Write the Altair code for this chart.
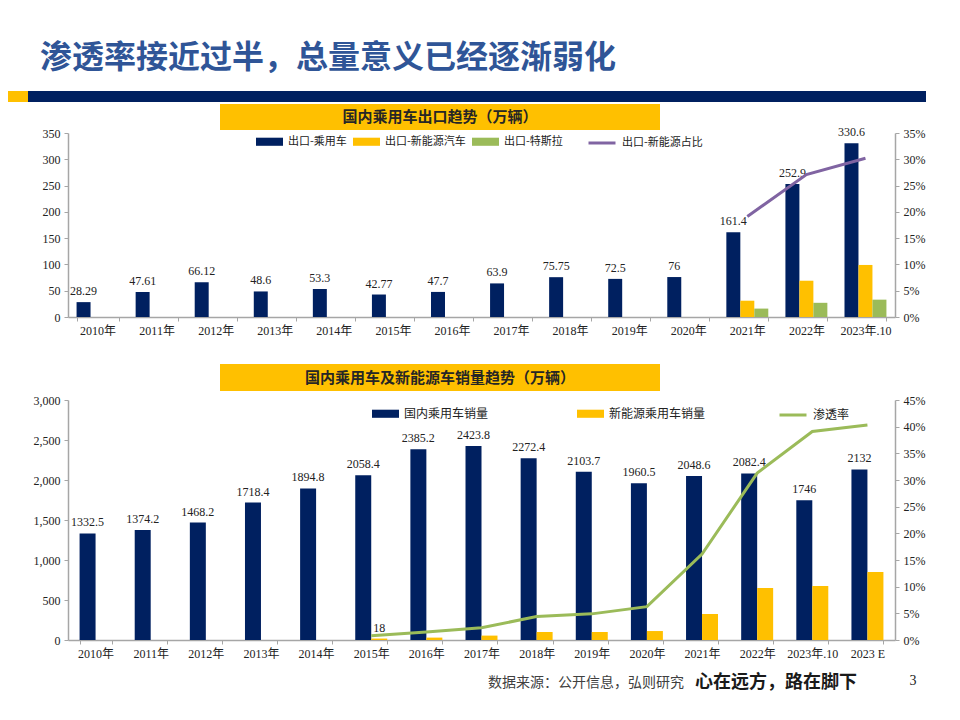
import altair as alt
import pandas as pd

# ---------------- data: top chart (exports) ----------------
cats_top = ["2010年", "2011年", "2012年", "2013年", "2014年", "2015年", "2016年",
            "2017年", "2018年", "2019年", "2020年", "2021年", "2022年", "2023年.10"]
export_pv = [28.29, 47.61, 66.12, 48.6, 53.3, 42.77, 47.7, 63.9, 75.75, 72.5, 76, 161.4, 252.9, 330.6]
export_nev = [None] * 11 + [31, 69, 99]
export_tesla = [None] * 11 + [16, 27, 33]
export_nev_share = [None] * 11 + [0.191, 0.271, 0.302]
series_top = ["出口-乘用车", "出口-新能源汽车", "出口-特斯拉"]
line_top = "出口-新能源占比"

# ---------------- data: bottom chart (domestic sales) ----------------
cats_bot = ["2010年", "2011年", "2012年", "2013年", "2014年", "2015年", "2016年", "2017年",
            "2018年", "2019年", "2020年", "2021年", "2022年", "2023年.10", "2023 E"]
pv_sales = [1332.5, 1374.2, 1468.2, 1718.4, 1894.8, 2058.4, 2385.2, 2423.8,
            2272.4, 2103.7, 1960.5, 2048.6, 2082.4, 1746, 2132]
nev_sales = [None] * 5 + [18, 30, 55, 100, 100, 112, 325, 650, 675, 850]
penetration = [None] * 5 + [0.008, 0.015, 0.023, 0.044, 0.049, 0.0625, 0.161, 0.313, 0.391, 0.403]
series_bot = ["国内乘用车销量", "新能源乘用车销量"]
line_bot = "渗透率"
nev_labelled = ["2015年"]

# ---------------- texts ----------------
page_title = "渗透率接近过半，总量意义已经逐渐弱化"
top_title = "国内乘用车出口趋势（万辆）"
bot_title = "国内乘用车及新能源车销量趋势（万辆）"
source_text = "数据来源：公开信息，弘则研究"
slogan = "心在远方，路在脚下"
page_no = "3"

NAVY = "#002060"
YELLOW = "#FFC000"
GREEN = "#9BBB59"
PURPLE = "#8064A2"
TITLE_BLUE = "#2F5597"
AXIS_GRAY = "#A6A6A6"
SERIF = "Liberation Serif, Noto Sans CJK SC"
CJK = "Noto Sans CJK SC"

# ---------------- tables ----------------
rows = []
for c, a, b, t in zip(cats_top, export_pv, export_nev, export_tesla):
    for s, v in zip(series_top, [a, b, t]):
        if v is not None:
            rows.append({"cat1": c, "series1": s, "value": v, "label": f"{v:g}",
                         "show": s == series_top[0]})
df_top = pd.DataFrame(rows)
df_top_line = pd.DataFrame([{"cat1": c, "line1": line_top, "share": v}
                            for c, v in zip(cats_top, export_nev_share) if v is not None])

rows = []
for c, a, b in zip(cats_bot, pv_sales, nev_sales):
    for s, v in zip(series_bot, [a, b]):
        if v is not None:
            rows.append({"cat2": c, "series2": s, "value": v, "label": f"{v:g}",
                         "show": (s == series_bot[0]) or (c in nev_labelled)})
df_bot = pd.DataFrame(rows)
df_bot_line = pd.DataFrame([{"cat2": c, "line2": line_bot, "share": v}
                            for c, v in zip(cats_bot, penetration) if v is not None])

one = alt.Data(values=[{}])


def deco_rect(x, x2, y, y2, color, opacity=1.0):
    return alt.Chart(one).mark_rect(color=color, opacity=opacity).encode(
        x=alt.value(x), x2=alt.value(x2), y=alt.value(y), y2=alt.value(y2))


def deco_text(text, x, y, size, font=CJK, weight="normal", color="#222222", align="center"):
    return alt.Chart(one).mark_text(text=text, font=font, fontSize=size, fontWeight=weight,
                                    color=color, align=align, baseline="middle").encode(
        x=alt.value(x), y=alt.value(y))


def x_axis():
    return alt.Axis(title=None, labelAngle=0, labelFont=SERIF, labelFontSize=12, labelColor="#222222",
                    domainColor=AXIS_GRAY, domainWidth=1.5, tickColor=AXIS_GRAY, tickBand="extent",
                    tickSize=4, labelPadding=4, grid=False)


def y_axis(values, fmt, orient):
    return alt.Axis(title=None, values=values, format=fmt, orient=orient, labelFont=SERIF,
                    labelFontSize=12, labelColor="#222222", domainColor=AXIS_GRAY, domainWidth=1.5,
                    tickColor=AXIS_GRAY, tickSize=4, labelPadding=4, grid=False)


# ================= TOP CHART =================
W = 827
H1 = 184
x_top = alt.X("cat1:N", sort=cats_top, scale=alt.Scale(paddingInner=0.29, paddingOuter=0.145), axis=x_axis())
xo_top = alt.XOffset("series1:N", sort=series_top,
                     scale=alt.Scale(domain=series_top, paddingInner=0, paddingOuter=0))
y_top = alt.Y("value:Q", scale=alt.Scale(domain=[0, 350], nice=False),
              axis=y_axis(list(range(0, 351, 50)), "d", "left"))

bars_top = alt.Chart(df_top).mark_bar().encode(
    x=x_top, xOffset=xo_top, y=y_top,
    color=alt.Color("series1:N", sort=series_top,
                    scale=alt.Scale(domain=series_top, range=[NAVY, YELLOW, GREEN]),
                    legend=alt.Legend(orient="none", legendX=188, legendY=-5, direction="horizontal",
                                      title=None, symbolType="M-1,-0.3H1V0.3H-1Z", symbolSize=729,
                                      symbolStrokeWidth=0, labelFont=CJK, labelFontSize=11,
                                      labelColor="#222222", columnPadding=6, labelOffset=5, padding=0)))
labels_top = alt.Chart(df_top).transform_filter(alt.datum.show).mark_text(
    baseline="bottom", dy=-4, font=SERIF, fontSize=12, color="#222222").encode(
    x=x_top, xOffset=xo_top, y=y_top, text="label:N")
line_top_ch = alt.Chart(df_top_line).mark_line(strokeWidth=3).encode(
    x=x_top,
    y=alt.Y("share:Q", scale=alt.Scale(domain=[0, 0.35], nice=False),
            axis=y_axis([i / 100 for i in range(0, 36, 5)], ".0%", "right")),
    stroke=alt.Stroke("line1:N", scale=alt.Scale(domain=[line_top], range=[PURPLE]),
                      legend=alt.Legend(orient="none", legendX=519, legendY=-5, direction="horizontal",
                                        title=None, symbolType="stroke", symbolSize=729,
                                        symbolStrokeWidth=3, labelFont=CJK, labelFontSize=11,
                                        labelColor="#222222", labelOffset=5, padding=0)))

top = alt.layer(
    deco_rect(-60, -59, -125, -124, "#FFFFFF", 0.0),
    deco_text(page_title, -28, -75, 32, weight="bold", color=TITLE_BLUE, align="left"),
    deco_rect(-60, -40, -42, -31, YELLOW),
    deco_rect(-40, 858, -42, -31, NAVY),
    deco_rect(152, 592, -29, -3, YELLOW),
    deco_text(top_title, 372, -16, 15, weight="bold", color="#262626"),
    alt.layer(bars_top, labels_top),
    line_top_ch,
).resolve_scale(y="independent").properties(width=W, height=H1)

# ================= BOTTOM CHART =================
H2 = 240
x_bot = alt.X("cat2:N", sort=cats_bot, scale=alt.Scale(paddingInner=0.42, paddingOuter=0.21), axis=x_axis())
xo_bot = alt.XOffset("series2:N", sort=series_bot,
                     scale=alt.Scale(domain=series_bot, paddingInner=0, paddingOuter=0))
y_bot = alt.Y("value:Q", scale=alt.Scale(domain=[0, 3000], nice=False),
              axis=y_axis(list(range(0, 3001, 500)), ",d", "left"))

bars_bot = alt.Chart(df_bot).mark_bar().encode(
    x=x_bot, xOffset=xo_bot, y=y_bot,
    color=alt.Color("series2:N", sort=series_bot,
                    scale=alt.Scale(domain=series_bot, range=[NAVY, YELLOW]),
                    legend=alt.Legend(orient="none", legendX=304, legendY=0, direction="horizontal",
                                      title=None, symbolType="M-1,-0.3H1V0.3H-1Z", symbolSize=729,
                                      symbolStrokeWidth=0, labelFont=CJK, labelFontSize=12,
                                      labelColor="#222222", columnPadding=88, labelOffset=5, padding=0)))
labels_bot = alt.Chart(df_bot).transform_filter(alt.datum.show).mark_text(
    baseline="bottom", dy=-4, font=SERIF, fontSize=12, color="#222222").encode(
    x=x_bot, xOffset=xo_bot, y=y_bot, text="label:N")
line_bot_ch = alt.Chart(df_bot_line).mark_line(strokeWidth=3).encode(
    x=x_bot,
    y=alt.Y("share:Q", scale=alt.Scale(domain=[0, 0.45], nice=False),
            axis=y_axis([i / 100 for i in range(0, 46, 5)], ".0%", "right")),
    stroke=alt.Stroke("line2:N", scale=alt.Scale(domain=[line_bot], range=[GREEN]),
                      legend=alt.Legend(orient="none", legendX=710, legendY=0, direction="horizontal",
                                        title=None, symbolType="stroke", symbolSize=729,
                                        symbolStrokeWidth=3, labelFont=CJK, labelFontSize=12,
                                        labelColor="#222222", labelOffset=5, padding=0)))

bottom = alt.layer(
    deco_rect(152, 592, -36, -9, YELLOW),
    deco_text(bot_title, 372, -22, 15, weight="bold", color="#262626"),
    alt.layer(bars_bot, labels_bot),
    line_bot_ch,
    deco_text(source_text, 420, 283, 14, color="#404040", align="left"),
    deco_text(slogan, 627, 283, 18, weight="bold", color="#1A1A1A", align="left"),
    deco_text(page_no, 845, 281, 14, font=SERIF, color="#222222"),
    deco_rect(-60, -59, 302, 303, "#FFFFFF", 0.0),
).resolve_scale(y="independent").properties(width=W, height=H2)

chart = alt.vconcat(top, bottom, spacing=83, bounds="flush").resolve_scale(
    color="independent", stroke="independent", xOffset="independent"
).resolve_legend(color="independent", stroke="independent").properties(
    padding=0, background="white"
).configure_view(stroke=None)

chart.save("out.html", embed_options={"renderer": "svg", "actions": False})
